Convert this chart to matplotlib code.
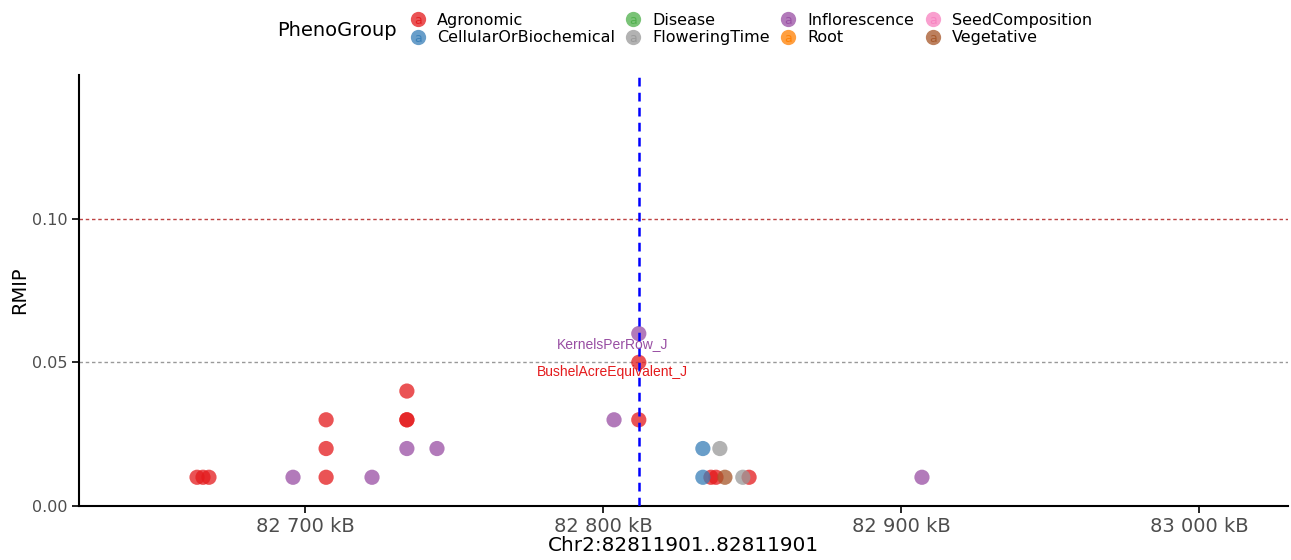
import matplotlib
matplotlib.use("Agg")
import matplotlib.pyplot as plt
from matplotlib.ticker import FuncFormatter
from matplotlib.legend_handler import HandlerBase
from matplotlib.lines import Line2D
from matplotlib.text import Text

# ---- data ----
groups = ["Agronomic", "CellularOrBiochemical", "Disease", "FloweringTime",
          "Inflorescence", "Root", "SeedComposition", "Vegetative"]
colors = ["#E41A1C", "#377EB8", "#4DAF4A", "#999999",
          "#984EA3", "#FF7F00", "#F781BF", "#A65628"]

agro_pos = [82663.7, 82665.7, 82667.7, 82707.0, 82707.0, 82707.0, 82734.1, 82734.1,
            82734.1, 82811.9, 82811.9, 82836.1, 82837.8, 82848.9]
agro_rmip = [0.01, 0.01, 0.01, 0.01, 0.02, 0.03, 0.03, 0.03, 0.04, 0.03, 0.05, 0.01, 0.01, 0.01]
infl_pos = [82695.9, 82722.4, 82734.1, 82744.2, 82803.6, 82811.9, 82906.9]
infl_rmip = [0.01, 0.01, 0.02, 0.02, 0.03, 0.06, 0.01]
cell_pos = [82833.4, 82833.4]
cell_rmip = [0.01, 0.02]
flow_pos = [82839.1, 82846.8]
flow_rmip = [0.02, 0.01]
veg_pos = [82840.8]
veg_rmip = [0.01]

series = {
    "Agronomic": (agro_pos, agro_rmip),
    "Inflorescence": (infl_pos, infl_rmip),
    "CellularOrBiochemical": (cell_pos, cell_rmip),
    "FloweringTime": (flow_pos, flow_rmip),
    "Vegetative": (veg_pos, veg_rmip),
}

snp_pos = 82811.901
xlabel = "Chr2:82811901..82811901"
labels = [("KernelsPerRow_J", 82803.0, 0.0563, "Inflorescence"),
          ("BushelAcreEquivalent_J", 82803.0, 0.0465, "Agronomic")]
xticks = [82700, 82800, 82900, 83000]
yticks = [0.00, 0.05, 0.10]

cmap = dict(zip(groups, colors))

fig = plt.figure(figsize=(12.91, 5.6), dpi=100)
ax = fig.add_axes([79/1291, 1-506/560, (1288-79)/1291, (506-75)/560])

ax.axhline(0.10, color="#B22222", ls=(0, (2.5, 2)), lw=1.0, alpha=0.85, zorder=1)
ax.axhline(0.05, color="#999999", ls=(0, (2.5, 2)), lw=1.0, zorder=1)

for g, (xs, ys) in series.items():
    ax.scatter(xs, ys, s=120, color=cmap[g], alpha=0.75, edgecolors="none", zorder=3)

ax.axvline(snp_pos, color="#0000FF", ls=(0, (3.5, 2.5)), lw=1.8, zorder=4)

for txt, x, y, g in labels:
    ax.text(x, y, txt, color=cmap[g], ha="center", va="center", fontsize=10,
            family="Liberation Sans", zorder=5)

ax.set_xlim(82624.1, 83029.7)
ax.set_ylim(0, 0.15)
ax.set_xticks(xticks)
ax.set_yticks(yticks)
ax.xaxis.set_major_formatter(FuncFormatter(lambda v, p: f"{int(round(v)):,} kB".replace(",", " ")))
ax.yaxis.set_major_formatter(FuncFormatter(lambda v, p: f"{v:.2f}"))
ax.tick_params(axis="both", direction="out", length=5, width=1.2, colors="black",
               labelcolor="#4D4D4D")
ax.tick_params(axis="x", labelsize=14, pad=3)
ax.tick_params(axis="y", labelsize=11.5)
for s in ["top", "right"]:
    ax.spines[s].set_visible(False)
for s in ["left", "bottom"]:
    ax.spines[s].set_linewidth(1.5)
ax.set_xlabel(xlabel, fontsize=14.4, labelpad=0)
ax.set_ylabel("RMIP", fontsize=14, labelpad=2)


class HandlerCircleA(HandlerBase):
    def create_artists(self, legend, orig_handle, xdescent, ydescent, width, height,
                       fontsize, trans):
        cx = width / 2 - xdescent
        cy = height / 2 - ydescent
        col = orig_handle.get_color()
        c = Line2D([cx], [cy], marker="o", ms=11, color=col, alpha=0.75, ls="",
                   markeredgecolor="none", transform=trans)
        t = Text(cx, cy - 1, "a", color=col, ha="center", va="center", fontsize=9,
                 alpha=0.9, transform=trans)
        return [c, t]


handles = [Line2D([], [], color=c) for c in colors]
fig.text(277/1291, 1-30/560, "PhenoGroup", fontsize=14, va="center", ha="left")
leg = fig.legend(handles, groups, ncol=4, loc="center left",
                 bbox_to_anchor=(397/1291, 1-29/560), frameon=False, fontsize=11.5,
                 handler_map={Line2D: HandlerCircleA()}, handlelength=1.2,
                 handletextpad=0.6, columnspacing=0.55, labelspacing=0.17,
                 borderpad=0.2)

fig.savefig("out.png", dpi=100)
